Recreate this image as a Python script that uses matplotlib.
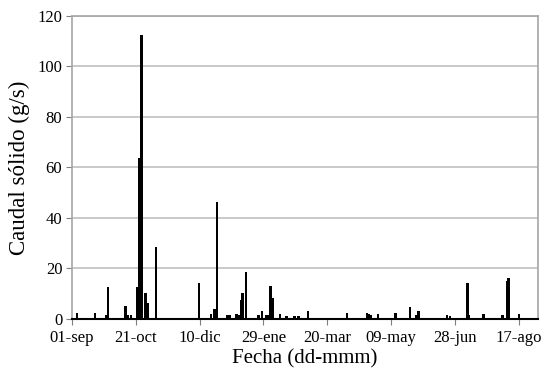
import matplotlib.pyplot as plt

# Days counted from 01-sep; sediment load events in g/s
event_days = [4, 18, 27, 28, 42, 44, 46, 51, 53, 54.5, 57.5, 59, 66,
              99.5, 109, 111.5, 113.5, 122, 124, 129, 131, 132.5, 133.5, 136.5,
              146, 149, 152, 154, 155.5, 157.5, 163, 168, 174.5, 177.5, 185,
              215.5, 231, 232.5, 234.5, 240, 253.5, 265, 269.5, 271.5,
              294, 296, 310, 311, 322.5, 337.5, 341, 342, 350.5]
event_vals = [2.3, 2.3, 1.5, 12.5, 5.1, 1.5, 1.5, 12.8, 63.6, 112.5, 10.4, 6.5, 28.6,
              14.1, 2.0, 3.8, 46.5, 1.5, 1.5, 1.8, 1.5, 7.5, 10.4, 18.7,
              1.5, 3.2, 1.5, 1.5, 13.1, 8.4, 1.8, 1.0, 1.0, 1.0, 3.0,
              2.3, 2.3, 1.8, 1.5, 1.8, 2.3, 4.9, 1.5, 3.0,
              1.5, 1.2, 14.1, 1.5, 1.8, 1.5, 15.0, 16.4, 1.8]

tick_days = [0, 50, 100, 150, 200, 250, 300, 350]
tick_labels = ['01-sep', '21-oct', '10-dic', '29-ene', '20-mar', '09-may', '28-jun', '17-ago']
y_ticks = [0, 20, 40, 60, 80, 100, 120]

plt.rcParams['font.family'] = ['Liberation Serif', 'DejaVu Serif']

fig = plt.figure(figsize=(5.51, 3.72), dpi=100)
ax = fig.add_axes([0.1307, 0.1425, 0.8453, 0.8145])

ax.bar(event_days, event_vals, width=1.9, color='black', zorder=3)

ax.set_xlim(0, 365)
ax.set_ylim(0, 120)
ax.set_xticks(tick_days)
ax.set_xticklabels(tick_labels)
ax.set_yticks(y_ticks)
ax.tick_params(axis='x', labelsize=12, length=4, color='#808080', pad=4)
ax.tick_params(axis='y', labelsize=12, length=4, color='#808080', pad=3)

ax.grid(axis='y', color='#c0c0c0', linewidth=1.2, zorder=0)
ax.set_axisbelow(True)
for side in ['left', 'right', 'top']:
    ax.spines[side].set_color('#a6a6a6')
    ax.spines[side].set_linewidth(1.2)
ax.spines['bottom'].set_color('black')
ax.spines['bottom'].set_linewidth(1.5)
ax.spines['bottom'].set_zorder(4)

ax.set_xlabel('Fecha (dd-mmm)', fontsize=15, labelpad=2)
ax.set_ylabel('Caudal sólido (g/s)', fontsize=16.5, labelpad=5)

fig.savefig('out.png', dpi=100)
